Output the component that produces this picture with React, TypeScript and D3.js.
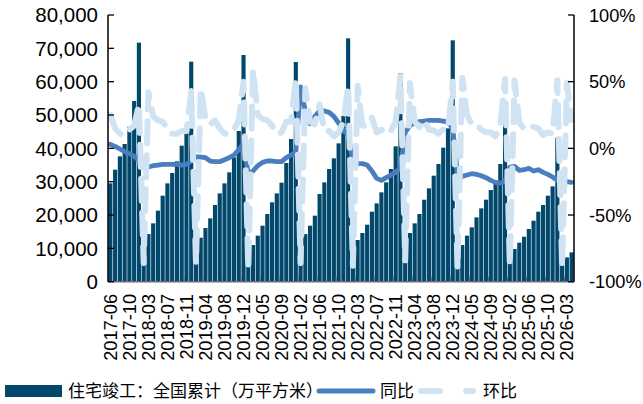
import React from "react";
import * as d3 from "d3";

const months: string[] = [
  "2017-06","2017-07","2017-08","2017-09","2017-10","2017-11","2017-12",
  "2018-02","2018-03","2018-04","2018-05","2018-06","2018-07","2018-08","2018-09","2018-10","2018-11","2018-12",
  "2019-02","2019-03","2019-04","2019-05","2019-06","2019-07","2019-08","2019-09","2019-10","2019-11","2019-12",
  "2020-02","2020-03","2020-04","2020-05","2020-06","2020-07","2020-08","2020-09","2020-10","2020-11","2020-12",
  "2021-02","2021-03","2021-04","2021-05","2021-06","2021-07","2021-08","2021-09","2021-10","2021-11","2021-12",
  "2022-02","2022-03","2022-04","2022-05","2022-06","2022-07","2022-08","2022-09","2022-10","2022-11","2022-12",
  "2023-02","2023-03","2023-04","2023-05","2023-06","2023-07","2023-08","2023-09","2023-10","2023-11","2023-12",
  "2024-02","2024-03","2024-04","2024-05","2024-06","2024-07","2024-08","2024-09","2024-10","2024-11","2024-12",
  "2025-02","2025-03","2025-04","2025-05","2025-06","2025-07","2025-08","2025-09","2025-10","2025-11","2025-12",
  "2026-02","2026-03","2026-04",
];

// 住宅竣工：全国累计（万平方米）
const completions: number[] = [
  29500, 33600, 37600, 41300, 46500, 54200, 71700,
  10100, 14300, 17500, 21300, 25800, 29500, 32600, 36100, 40800, 46200, 66000,
  9100, 13200, 16100, 19000, 23000, 26500, 29500, 32800, 37300, 45200, 68000,
  6900, 11000, 13800, 16800, 20300, 23800, 26500, 29700, 35600, 42800, 65900,
  9500, 14300, 16800, 19800, 26300, 29800, 33800, 37000, 41500, 49700, 73000,
  8500, 12500, 14600, 17100, 21000, 23500, 26800, 29800, 33800, 40600, 62500,
  9800, 14600, 17500, 20300, 24600, 28000, 31800, 35300, 40200, 46000, 72400,
  7200, 11000, 13800, 16300, 19300, 22000, 24600, 27500, 30000, 35300, 53800,
  6500, 9800, 11700, 13500, 15800, 18300, 21000, 23000, 25800, 28600, 43200,
  4900, 7300, 8800,
];

// 同比 (%)
const yoy: number[] = [
  3, 1.5, -0.5, -2.5, -4, -6, -9,
  -14, -14, -13, -12.5, -12, -12, -12, -12, -12.5, -12, -9.5,
  -6.5, -6.5, -7, -9.5, -10, -10, -8.5, -7, -5, -1, 3.5,
  -19, -17, -13, -10.5, -9.5, -9.5, -10, -10, -7, -5, -3,
  46, 28, 18.5, 24, 28, 28, 27, 24, 19, 13, 10,
  -10, -11.5, -11.5, -12.5, -17, -22.5, -24, -22, -20, -18, -14.5,
  12, 17, 19, 20, 20.5, 21, 21, 21, 20.5, 19.5, 15,
  -19, -21, -20, -19, -19.5, -20.5, -22, -24, -25.5, -26, -25,
  -14, -13.5, -16.5, -16, -15, -17, -16, -18, -19.5, -21.5, -24,
  -27.5, -25, -25.5,
];

// 环比 (%)
const mom: number[] = [
  25, 15, 11, 10, 14, 17, 33,
  -86, 42, 24, 21, 20, 15, 11, 11, 13, 13, 43,
  -86, 45, 22, 18, 21, 15, 11, 11, 14, 21, 50,
  -90, 59, 25, 22, 21, 17, 11, 12, 20, 20, 52,
  -86, 45, 20, 18, 33, 13, 13, 9, 12, 20, 47,
  -88, 47, 17, 17, 23, 12, 14, 11, 13, 20, 54,
  -84, 49, 20, 16, 21, 14, 13.5, 11, 14, 14, 50,
  -90, 53, 25, 18, 18, 14, 12, 12, 9, 18, 52,
  -88, 51, 19, 15, 17, 16, 15, 10, 12, 11, 51,
  -89, 49, 21,
];

const leftTicks: number[] = [0, 10000, 20000, 30000, 40000, 50000, 60000, 70000, 80000];
const rightTicks: number[] = [-100, -50, 0, 50, 100];
const labelEvery = 4;

const legendLabels = ["住宅竣工：全国累计（万平方米）", "同比", "环比"];

const BAR = "#02486C";
const YOY = "#4A7EBF";
const MOM = "#D0E3F3";
const FONT = "'Liberation Sans', Arial, sans-serif";
const CJK = "'Noto Sans CJK SC', sans-serif";

export default function App() {
  const W = 643, H = 404;
  const L = 108, R = 574, T = 15, B = 281.7;

  const x = d3.scaleBand<string>().domain(months).range([L, R]).paddingInner(0).paddingOuter(0);
  const yL = d3.scaleLinear().domain([0, 80000]).range([B, T]);
  const yR = d3.scaleLinear().domain([-100, 100]).range([B, T]);
  const bw = x.bandwidth();
  const cx = (m: string) => (x(m) as number) + bw / 2;

  const lineYoy = d3.line<number>().x((_, i) => cx(months[i])).y((d) => yR(d)).curve(d3.curveLinear);
  const lineMom = d3.line<number>().x((_, i) => cx(months[i])).y((d) => yR(d)).curve(d3.curveLinear);

  const fmt = d3.format(",");

  return (
    <svg width={W} height={H} style={{ position: "absolute", left: 0, top: 0, background: "#fff" }}>
      {/* bars */}
      <g>
        {completions.map((v, i) => (
          <rect key={i} x={(x(months[i]) as number) + 0.3} width={bw - 0.6} y={yL(v)} height={B - yL(v)} fill={BAR} />
        ))}
      </g>
      {/* yoy line */}
      <path d={lineYoy(yoy) || ""} fill="none" stroke={YOY} strokeWidth={4.8} strokeLinejoin="round" strokeLinecap="round" />
      {/* mom line */}
      <path d={lineMom(mom) || ""} fill="none" stroke={MOM} strokeWidth={6} strokeLinejoin="round" strokeLinecap="round" strokeDasharray="22 12" />

      {/* bottom axis */}
      <line x1={L} x2={R} y1={B} y2={B} stroke="#6e6e6e" strokeWidth={1.5} />
      {months.map((m, i) =>
        i % labelEvery === 0 && i > 0 ? (
          <line key={"t" + i} x1={x(m) as number} x2={x(m) as number} y1={B} y2={B - 5} stroke="#6e6e6e" strokeWidth={1.2} />
        ) : null
      )}
      {months.map((m, i) =>
        i % labelEvery === 0 ? (
          <text key={"l" + i} transform={`translate(${cx(m) + 6.5},${294}) rotate(-90)`} textAnchor="end" fontSize={18.2} fontFamily={FONT} fill="#000">
            {m}
          </text>
        ) : null
      )}

      {/* left axis */}
      <line x1={L} x2={L} y1={T} y2={B} stroke="#000" strokeWidth={1.5} />
      {leftTicks.map((t) => (
        <g key={"lt" + t}>
          <line x1={L} x2={L + 6} y1={yL(t)} y2={yL(t)} stroke="#000" strokeWidth={1.3} />
          <text x={98} y={yL(t) + 7.3} textAnchor="end" fontSize={20.5} fontFamily={FONT} fill="#000">
            {fmt(t)}
          </text>
        </g>
      ))}

      {/* right axis */}
      <line x1={R} x2={R} y1={T} y2={B} stroke="#000" strokeWidth={1.5} />
      {rightTicks.map((t) => (
        <g key={"rt" + t}>
          <line x1={R - 6} x2={R} y1={yR(t)} y2={yR(t)} stroke="#000" strokeWidth={1.3} />
          <text x={589} y={yR(t) + 6.6} textAnchor="start" fontSize={18.2} fontFamily={FONT} fill="#000">
            {t + "%"}
          </text>
        </g>
      ))}

      {/* legend */}
      <rect x={5} y={385} width={57} height={12} fill={BAR} />
      <text x={68} y={397} fontSize={17} fontFamily={CJK} fill="#000">{legendLabels[0]}</text>
      <line x1={319} x2={373} y1={391} y2={391} stroke={YOY} strokeWidth={5} strokeLinecap="round" />
      <text x={380} y={397} fontSize={17} fontFamily={CJK} fill="#000">{legendLabels[1]}</text>
      <line x1={421} x2={473} y1={391} y2={391} stroke={MOM} strokeWidth={6} strokeLinecap="round" strokeDasharray="19 26" />
      <text x={483} y={397} fontSize={17} fontFamily={CJK} fill="#000">{legendLabels[2]}</text>
    </svg>
  );
}
